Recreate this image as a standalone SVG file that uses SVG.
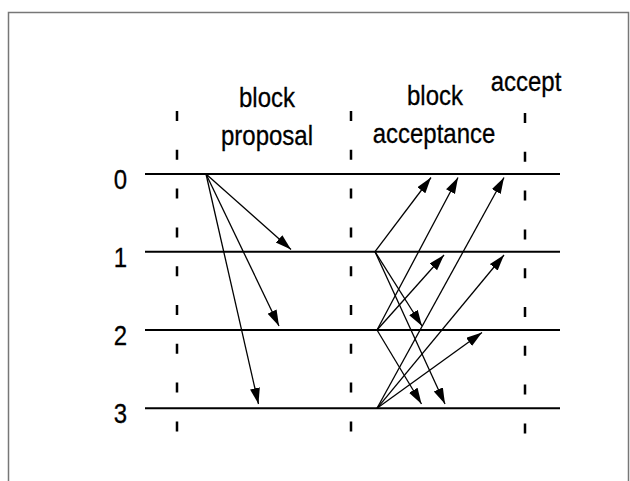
<svg xmlns="http://www.w3.org/2000/svg" width="630" height="481" viewBox="0 0 630 481">
<defs>
<marker id="ah" markerUnits="userSpaceOnUse" markerWidth="17" markerHeight="11" refX="16" refY="5" orient="auto">
<path d="M0,0 L16,5 L0,10 z" fill="#000"/>
</marker>
<style>
.t{font-family:"Liberation Sans",Arial,sans-serif;font-size:24px;fill:#000;stroke:#000;stroke-width:0.25;text-anchor:middle}
.h{stroke:#000;stroke-width:1.9;fill:none}
.d{stroke:#000;stroke-width:2.5;stroke-dasharray:10 28.8;fill:none}
.a{stroke:#000;stroke-width:1.3;fill:none;marker-end:url(#ah)}
</style>
</defs>
<rect width="630" height="481" fill="#fff"/>
<path d="M8.5,481 V12.5 H628.5 V481" fill="none" stroke="#777" stroke-width="1.5"/>
<g id="labels">
<text class="t" transform="translate(267,107) scale(1,1.18)">block</text>
<text class="t" transform="translate(267,145) scale(1,1.18)">proposal</text>
<text class="t" transform="translate(435,105) scale(1,1.18)">block</text>
<text class="t" transform="translate(434,143) scale(1,1.18)">acceptance</text>
<text class="t" transform="translate(526,91) scale(1,1.18)">accept</text>
</g>
<g id="phases">
<line class="d" x1="177" y1="111" x2="177" y2="434"/>
<line class="d" x1="351" y1="111" x2="351" y2="434"/>
<line class="d" x1="525" y1="113" x2="525" y2="440"/>
</g>
<g id="node0"><text class="t" transform="translate(120.5,188.5) scale(1,1.18)">0</text><line class="h" x1="145" y1="174" x2="560" y2="174"/></g>
<g id="node1"><text class="t" transform="translate(120.5,266.5) scale(1,1.18)">1</text><line class="h" x1="145" y1="251.7" x2="560" y2="251.7"/></g>
<g id="node2"><text class="t" transform="translate(120.5,345) scale(1,1.18)">2</text><line class="h" x1="145" y1="330" x2="560" y2="330"/></g>
<g id="node3"><text class="t" transform="translate(120.5,423) scale(1,1.18)">3</text><line class="h" x1="145" y1="408.3" x2="560" y2="408.3"/></g>
<g id="connectors">
<line class="a" x1="206" y1="174" x2="291" y2="249.5"/>
<line class="a" x1="206" y1="174" x2="279" y2="326"/>
<line class="a" x1="206" y1="174" x2="258.5" y2="404"/>
<line class="a" x1="375" y1="251.7" x2="431" y2="177.5"/>
<line class="a" x1="377" y1="330" x2="458" y2="177.5"/>
<line class="a" x1="377" y1="408.3" x2="504" y2="177.5"/>
<line class="a" x1="377" y1="330" x2="444" y2="255"/>
<line class="a" x1="377" y1="408.3" x2="504" y2="255"/>
<line class="a" x1="377" y1="408.3" x2="482" y2="332.5"/>
<line class="a" x1="375" y1="251.7" x2="422" y2="326"/>
<line class="a" x1="375" y1="251.7" x2="445" y2="404"/>
<line class="a" x1="377" y1="330" x2="421.5" y2="404"/>
</g>
</svg>
